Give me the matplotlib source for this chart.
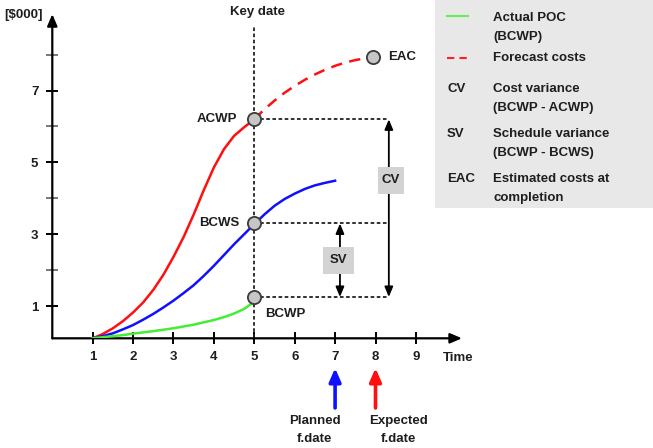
import matplotlib
matplotlib.use('Agg')
import matplotlib.pyplot as plt
from matplotlib.patches import Rectangle
from matplotlib.lines import Line2D

plt.rcParams['font.family'] = ['Liberation Sans', 'DejaVu Sans']

# ---------------- data ----------------
x_ticks = [1, 2, 3, 4, 5, 6, 7, 8, 9]
y_major = [1, 3, 5, 7]
y_minor = [2, 4, 6, 8]

bcwp_x = [1, 1.25, 1.5, 1.75, 2, 2.5, 3, 3.5, 4, 4.25, 4.5, 4.75, 5]
bcwp_y = [0.1, 0.13, 0.16, 0.19, 0.23, 0.30, 0.38, 0.48, 0.61, 0.69, 0.79, 0.92, 1.12]

bcws_x = [1, 1.25, 1.5, 1.75, 2, 2.25, 2.5, 2.75, 3, 3.25, 3.5, 3.75, 4, 4.25, 4.5, 4.75, 5,
          5.25, 5.5, 5.75, 6, 6.25, 6.5, 6.75, 7]
bcws_y = [0.1, 0.16, 0.24, 0.35, 0.47, 0.62, 0.78, 0.96, 1.15, 1.36, 1.58, 1.84, 2.12, 2.42,
          2.72, 3.0, 3.28, 3.55, 3.79, 3.98, 4.13, 4.26, 4.36, 4.43, 4.49]

acwp_x = [1, 1.25, 1.5, 1.75, 2, 2.25, 2.5, 2.75, 3, 3.25, 3.5, 3.75, 4, 4.25, 4.5, 4.75, 5]
acwp_y = [0.1, 0.22, 0.38, 0.58, 0.82, 1.1, 1.45, 1.87, 2.37, 2.92, 3.55, 4.23, 4.86, 5.37,
          5.74, 5.98, 6.2]

forecast_x = [5, 5.25, 5.5, 5.75, 6, 6.25, 6.5, 6.75, 7, 7.25, 7.5, 7.75, 7.95]
forecast_y = [6.2, 6.48, 6.72, 6.94, 7.13, 7.3, 7.45, 7.58, 7.69, 7.78, 7.85, 7.9, 7.93]

key_date = 5
acwp_key, bcws_key, bcwp_key = 6.2, 3.3, 1.25
eac_x, eac_y = 7.95, 7.93
planned_finish, expected_finish = 7, 8

legend_keys = ['', '', 'CV', 'SV', 'EAC']
legend_texts = [['Actual POC', '(BCWP)'],
                ['Forecast costs'],
                ['Cost variance', '(BCWP - ACWP)'],
                ['Schedule variance', '(BCWP - BCWS)'],
                ['Estimated costs at', 'completion']]

# ---------------- layout ----------------
W, H = 653, 448
fig = plt.figure(figsize=(W / 100, H / 100), dpi=100)
fig.patch.set_facecolor('white')

x0_px, ux = 52.3, 40.4      # px of x=0, px per unit
y1_px, uy = 306.0, 35.9     # px of y=1, px per unit
xmin, xmax = 0, 10.3
ymin, ymax = 0.1, 9.2
bottom_px = y1_px + (1 - ymin) * uy
ax = fig.add_axes([x0_px / W, (H - bottom_px) / H,
                   (xmax - xmin) * ux / W, (ymax - ymin) * uy / H])
ax.set_xlim(xmin, xmax)
ax.set_ylim(ymin, ymax)
ax.patch.set_visible(False)
for s in ax.spines.values():
    s.set_visible(False)

TXT = '#1e1e1e'
FS = 9.5

# axes with arrows
ap = dict(arrowstyle='-|>,head_width=0.3,head_length=0.7', lw=1.6, color='black',
          shrinkA=0, shrinkB=0, mutation_scale=10)
ax.annotate('', xy=(0, 9.13), xytext=(0, ymin), arrowprops=ap, annotation_clip=False)
ax.annotate('', xy=(10.14, ymin), xytext=(0, ymin), arrowprops=ap, annotation_clip=False)

ax.set_xticks(x_ticks)
ax.set_yticks(y_major)
ax.set_yticks(y_minor, minor=True)
ax.tick_params(axis='both', which='major', direction='inout', length=8, width=1.4,
               labelsize=FS, colors='black', labelcolor=TXT)
ax.tick_params(axis='x', pad=5)
ax.tick_params(axis='y', pad=6)
ax.tick_params(axis='y', which='minor', direction='inout', length=8, width=1.4, color='#777777')
for lab in ax.get_xticklabels() + ax.get_yticklabels():
    lab.set_fontweight('bold')

# curves
ax.plot(acwp_x, acwp_y, color='#ff1010', lw=1.8, zorder=3, solid_joinstyle='round')
ax.plot(forecast_x, forecast_y, color='#ff1010', lw=1.8, ls=(0, (4.5, 3.0)), zorder=3)
ax.plot(bcws_x, bcws_y, color='#1010ff', lw=1.8, zorder=3, solid_joinstyle='round')
ax.plot(bcwp_x, bcwp_y, color='#44ee33', lw=1.8, zorder=3, solid_joinstyle='round')

# dotted reference lines
dot = dict(color='#222222', lw=1.3, ls=(0, (2, 1.4)), zorder=2)
ax.plot([key_date, key_date], [ymin, 8.77], **dot)
cv_x, sv_x = 8.33, 7.12
for yv in (acwp_key, bcws_key, bcwp_key):
    ax.plot([key_date, cv_x], [yv, yv], **dot)

# variance arrows
vap = dict(arrowstyle='<|-|>,head_width=0.25,head_length=0.6', lw=1.3, color='black',
           shrinkA=0, shrinkB=0, mutation_scale=10)
ax.annotate('', xy=(cv_x, acwp_key), xytext=(cv_x, bcwp_key), arrowprops=vap, zorder=4)
ax.annotate('', xy=(sv_x, bcws_key), xytext=(sv_x, bcwp_key), arrowprops=vap, zorder=4)

ax.add_patch(Rectangle((8.06, 4.12), 0.65, 0.75, facecolor='#d3d3d3', edgecolor='none', zorder=5))
ax.text(8.385, 4.5, 'CV', ha='center', va='center', fontsize=FS, fontweight='bold', color=TXT, zorder=6)
ax.add_patch(Rectangle((6.70, 1.89), 0.77, 0.76, facecolor='#d3d3d3', edgecolor='none', zorder=5))
ax.text(7.085, 2.27, 'SV', ha='center', va='center', fontsize=FS, fontweight='bold', color=TXT, zorder=6)

# markers
mk = dict(marker='o', ms=9.5, mfc='#c6c6c6', mec='#3a3a3a', mew=1.3, ls='none', zorder=7)
ax.plot([key_date, key_date, key_date, eac_x], [acwp_key, bcws_key, bcwp_key, eac_y], **mk)

lab = dict(fontsize=FS, fontweight='bold', color=TXT, va='center')
ax.text(4.57, acwp_key, 'ACWP', ha='right', **lab)
ax.text(4.62, bcws_key, 'BCWS', ha='right', **lab)
ax.text(5.27, 0.78, 'BCWP', ha='left', **lab)
ax.text(8.31, eac_y, 'EAC', ha='left', **lab)
ax.text(5.08, 9.19, 'Key date', ha='center', **lab)
ax.text(-0.23, 9.1, '[$000]', ha='right', **lab)
ax.text(10.04, -0.45, 'Time', ha='center', **lab)

# finish date arrows
fap = dict(arrowstyle='-|>,head_width=0.35,head_length=0.8', lw=2.6,
           shrinkA=0, shrinkB=0, mutation_scale=10)
ax.annotate('', xy=(planned_finish, -0.73), xytext=(planned_finish, -1.84),
            arrowprops=dict(color='#1010ff', **fap), annotation_clip=False)
ax.annotate('', xy=(expected_finish, -0.73), xytext=(expected_finish, -1.84),
            arrowprops=dict(color='#ff1010', **fap), annotation_clip=False)
ax.text(6.5, -2.2, 'Planned', ha='center', **lab)
ax.text(6.5, -2.7, 'f.date', ha='center', **lab)
ax.text(8.58, -2.2, 'Expected', ha='center', **lab)
ax.text(8.58, -2.7, 'f.date', ha='center', **lab)

# ---------------- legend panel ----------------
def fx(px):
    return px / W

def fy(py):
    return 1 - py / H

fig.add_artist(Rectangle((fx(435), fy(208)), fx(W - 435), 208 / H, transform=fig.transFigure,
                         facecolor='#e8e8e8', edgecolor='none', zorder=-1))
fig.add_artist(Line2D([fx(447), fx(468)], [fy(16), fy(16)], transform=fig.transFigure,
                      color='#66ee55', lw=1.5))
fig.add_artist(Line2D([fx(447), fx(468)], [fy(58), fy(58)], transform=fig.transFigure,
                      color='#ff2020', lw=1.5, ls=(0, (3.5, 2.5))))
row_y = [18, 58, 89, 134, 179]
for key, lines, ry in zip(legend_keys, legend_texts, row_y):
    if key:
        fig.text(fx(447), fy(ry), key, ha='left', va='center', fontsize=FS,
                 fontweight='bold', color=TXT)
    for i, t in enumerate(lines):
        fig.text(fx(493), fy(ry + 19 * i), t, ha='left', va='center', fontsize=FS,
                 fontweight='bold', color=TXT)

fig.savefig('out.png', dpi=100, facecolor='white')
